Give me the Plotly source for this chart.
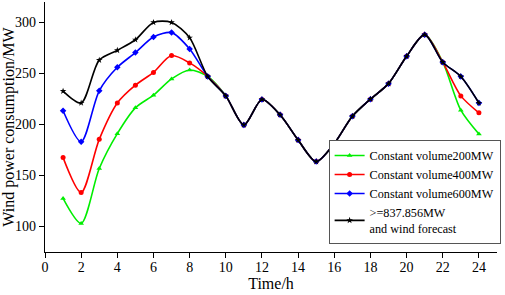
import plotly.graph_objects as go

hours = list(range(1, 25))
common_mid = [247, 228, 199.5, 224.5, 209.5, 184.8, 163.6, 181.3, 208, 224.8, 240, 266.8, 288, 261]  # h9..h22

v200_start = [127.5, 103, 156.8, 191, 216.3, 228.7, 244.6, 253.4]
v400_start = [167.5, 133.3, 185.4, 221, 238.5, 251, 267.5, 260.3]
v600_start = [213.4, 183, 233, 256, 270.4, 285.7, 290, 274]
vmax_start = [232.6, 221, 263, 272.6, 283, 300, 300, 285]

v200_end = [214, 190.6]
v400_end = [228, 211.4]
v600_end = [247, 221]
vmax_end = [247, 221]

v200 = v200_start + common_mid + v200_end
v400 = v400_start + common_mid + v400_end
v600 = v600_start + common_mid + v600_end
vmax = vmax_start + common_mid + vmax_end

names = ["Constant volume200MW", "Constant volume400MW", "Constant volume600MW",
         ">=837.856MW<br>and wind forecast"]
colors = ["#00ee00", "#ff0000", "#0000ff", "#000000"]
symbols = ["triangle-up", "circle", "diamond", "star"]
series = [v200, v400, v600, vmax]

fig = go.Figure()
for n, c, s, v in zip(names, colors, symbols, series):
    fig.add_trace(go.Scatter(
        x=hours, y=v, name=n, mode="lines+markers",
        line=dict(color=c, width=1.6, shape="spline", smoothing=0.8),
        marker=dict(symbol=s, size=5, color=c),
    ))

font = "Liberation Serif, Times New Roman, serif"
fig.update_layout(
    width=505, height=295,
    margin=dict(l=45, r=8, t=2, b=43),
    paper_bgcolor="white", plot_bgcolor="white",
    font=dict(family=font, size=14, color="black"),
    showlegend=True,
    legend=dict(
        x=1.008, y=0.032, xanchor="right", yanchor="bottom",
        bordercolor="#555555", borderwidth=1, bgcolor="white",
        font=dict(family=font, size=12.2), tracegroupgap=0,
        itemwidth=30,
    ),
    xaxis=dict(
        range=[0, 25], tickvals=list(range(0, 25, 2)),
        showline=True, linecolor="black", linewidth=1.2,
        ticks="outside", ticklen=5, tickcolor="black",
        showgrid=False, zeroline=False, automargin=False,
        tickfont=dict(size=14), ticklabelstandoff=-3,
        title=dict(text="Time/h", font=dict(size=16), standoff=0),
    ),
    yaxis=dict(
        range=[75, 320], tickvals=[100, 150, 200, 250, 300],
        showline=True, linecolor="black", linewidth=1.2,
        ticks="outside", ticklen=5, tickcolor="black",
        showgrid=False, zeroline=False, automargin=False,
        tickfont=dict(size=14),
        title=dict(text="Wind power consumption/MW", font=dict(size=16), standoff=1),
    ),
)

fig.write_html("out.html", config={"displayModeBar": False},
               post_script="document.body.style.margin='0px';")
